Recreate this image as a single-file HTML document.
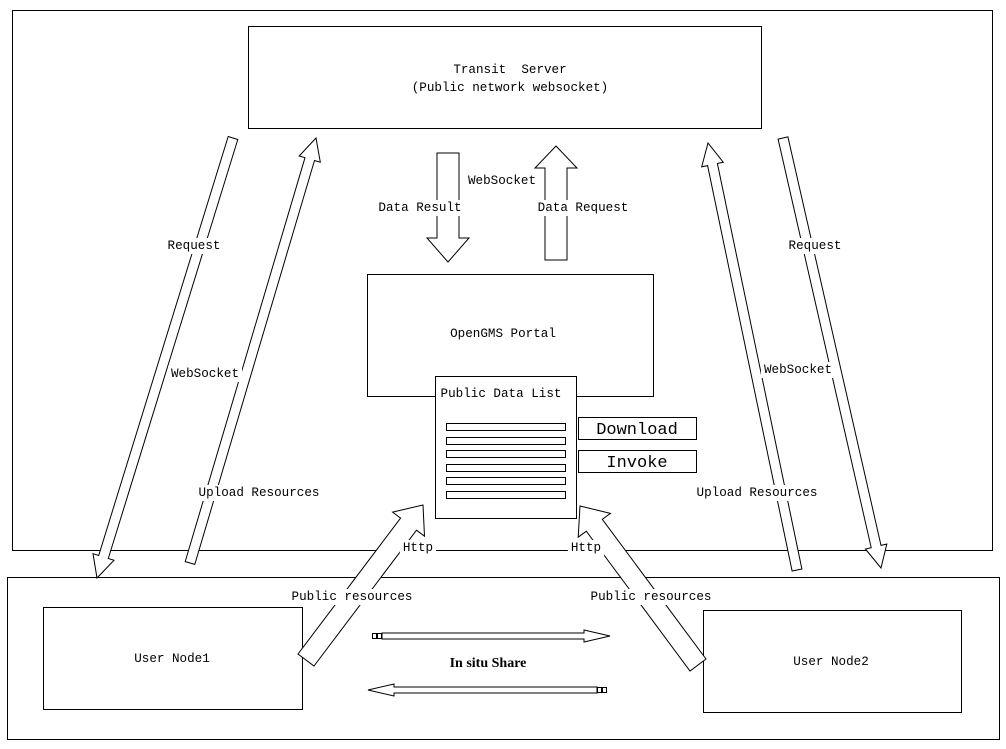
<!DOCTYPE html>
<html><head><meta charset="utf-8"><style>
html,body{margin:0;padding:0;background:#fff;}
svg{display:block;}
text{font-family:"Liberation Mono","DejaVu Sans Mono",monospace;font-size:12.6px;fill:#000;}
</style></head><body>
<svg id="s" width="1006" height="749" viewBox="0 0 1006 749" xmlns="http://www.w3.org/2000/svg">
<g fill="#fff" stroke="#000" stroke-width="1">
<rect x="12.5" y="10.5" width="980" height="540"/>
<rect x="7.5" y="577.5" width="992" height="162"/>
<rect x="248.5" y="26.5" width="513" height="102"/>
<rect x="367.5" y="274.5" width="286" height="122"/>
<rect x="43.5" y="607.5" width="259" height="102"/>
<rect x="703.5" y="610.5" width="258" height="102"/>
</g>
<g id="arrows" fill="#fff" stroke="#000" stroke-width="1"></g>
<g fill="#fff" stroke="#000" stroke-width="1">
<rect x="435.5" y="376.5" width="141" height="142"/>
<rect x="446.5" y="423.5" width="119" height="7"/>
<rect x="446.5" y="437.5" width="119" height="7"/>
<rect x="446.5" y="450.5" width="119" height="7"/>
<rect x="446.5" y="464.5" width="119" height="7"/>
<rect x="446.5" y="477.5" width="119" height="7"/>
<rect x="446.5" y="491.5" width="119" height="7"/>
<rect x="578.5" y="417.5" width="118" height="22"/>
<rect x="578.5" y="450.5" width="118" height="22"/>
<rect x="372.5" y="633.5" width="4" height="5"/>
<rect x="377.5" y="633.5" width="4" height="5"/>
<rect x="597.5" y="687.5" width="4" height="5"/>
<rect x="602.5" y="687.5" width="4" height="5"/>
</g>
<g id="labels"></g>
<text x="510" y="73" text-anchor="middle" xml:space="preserve">Transit  Server</text>
<text x="510" y="91" text-anchor="middle">(Public network websocket)</text>
<text x="503" y="337" text-anchor="middle">OpenGMS Portal</text>
<text x="501" y="397" text-anchor="middle">Public Data List</text>
<text x="637" y="434" text-anchor="middle" style="font-size:17px">Download</text>
<text x="637" y="467" text-anchor="middle" style="font-size:17px">Invoke</text>
<text x="172" y="662" text-anchor="middle">User Node1</text>
<text x="831" y="665" text-anchor="middle">User Node2</text>
<text x="488" y="667" text-anchor="middle" style="font-family:'Liberation Serif',serif;font-weight:bold;font-size:14px">In situ Share</text>
</svg>
<script>
var NS="http://www.w3.org/2000/svg";
function arrow(x1,y1,x2,y2,w,h,L){
 var dx=x2-x1,dy=y2-y1,len=Math.hypot(dx,dy),ux=dx/len,uy=dy/len,px=-uy,py=ux;
 var bx=x2-ux*L,by=y2-uy*L;
 var pts=[[x1+px*w,y1+py*w],[bx+px*w,by+py*w],[bx+px*h,by+py*h],[x2,y2],[bx-px*h,by-py*h],[bx-px*w,by-py*w],[x1-px*w,y1-py*w]];
 var p=document.createElementNS(NS,"polygon");
 p.setAttribute("points",pts.map(function(a){return a[0].toFixed(1)+","+a[1].toFixed(1)}).join(" "));
 document.getElementById("arrows").appendChild(p);
}
arrow(233,138,97,578,5,11,22);
arrow(190,563,316,138,5,11,22);
arrow(797,570,708,143,5,11,22);
arrow(783,138,881,568,5,11,22);
arrow(448,153,448,262,11,21,24);
arrow(556,260,556,146,11,21,22);
arrow(306,660,423,505,10,20,24);
arrow(698,665,580,506,10,20,24);
arrow(382,636,610,636,3,6,26);
arrow(597,690,368,690,3,6,26);
var labels=[["Request",194,249],["WebSocket",205,377],["Upload Resources",259,496],["Request",815,249],["WebSocket",798,373],["Upload Resources",757,496],["WebSocket",502,184],["Data Result",420,211],["Data Request",583,211],["Http",418,551],["Http",586,551],["Public resources",352,600],["Public resources",651,600]];
var lg=document.getElementById("labels");
labels.forEach(function(l){
 var t=document.createElementNS(NS,"text");
 t.setAttribute("x",l[1]);t.setAttribute("y",l[2]);t.setAttribute("text-anchor","middle");
 t.textContent=l[0];lg.appendChild(t);
 var b=t.getBBox();
 var r=document.createElementNS(NS,"rect");
 r.setAttribute("x",b.x-3);r.setAttribute("y",b.y-1);r.setAttribute("width",b.width+6);r.setAttribute("height",b.height+2);
 r.setAttribute("fill","#fff");lg.insertBefore(r,t);
});
</script>
</body></html>
